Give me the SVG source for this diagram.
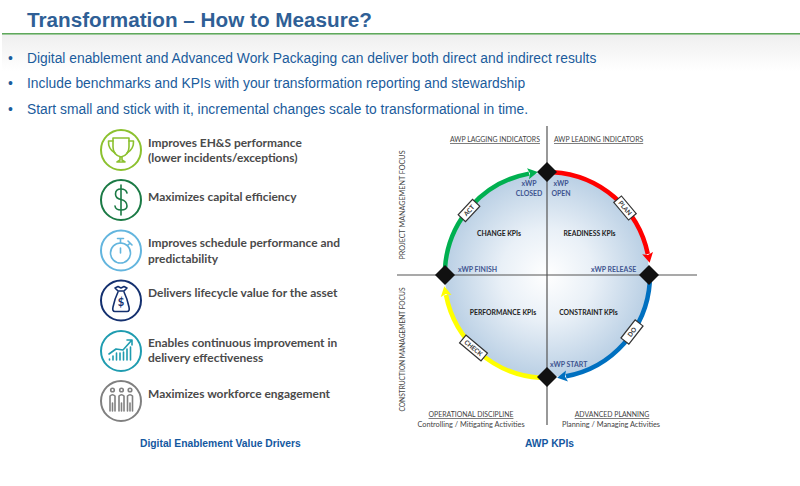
<svg xmlns="http://www.w3.org/2000/svg" width="800" height="486" viewBox="0 0 800 486">
  <style>
    .title { font: bold 20.7px "Liberation Sans", Arial, sans-serif; fill: #2f5f96; }
    .bullet { font: 13.83px "Liberation Sans", Arial, sans-serif; fill: #1b5c9c; }
    .caption { font: bold 10.3px "Liberation Sans", Arial, sans-serif; fill: #14589f; }
    .driver { font: bold 11.95px Lato, "Open Sans", sans-serif; fill: #4a4a4a; }
    .axis { font: 7.2px Lato, "Open Sans", sans-serif; fill: #444; }
    .activity { font: 7.35px Lato, "Open Sans", sans-serif; fill: #444; }
    .head { font: 6.9px Lato, "Open Sans", sans-serif; fill: #444; text-decoration: underline; }
    .kpi { font: bold 6.8px Lato, "Open Sans", sans-serif; fill: #222; text-anchor: middle; }
    .xwp { font: bold 6.95px Lato, "Open Sans", sans-serif; fill: #3f5590; }
    .mid { text-anchor: middle; }
    .tag { font: bold 6.4px Lato, "Open Sans", sans-serif; fill: #333; text-anchor: middle; }
    .tagbox { fill: #fff; stroke: #333; stroke-width: 1.2; }
    .ring { fill: none; stroke-width: 2; }
    .glyph { fill: none; stroke-width: 1.6; stroke-linecap: round; stroke-linejoin: round; }
    .arc { fill: none; stroke-width: 4.5; }
    .ax { stroke: #555; stroke-width: 1.2; }
    .gate { fill: #111; }
  </style>
  <defs>
    <linearGradient id="band" x1="0" y1="0" x2="0" y2="1">
      <stop offset="0" stop-color="#efefef"/>
      <stop offset="1" stop-color="#ffffff"/>
    </linearGradient>
    <radialGradient id="disc" gradientUnits="userSpaceOnUse" cx="547" cy="275" r="103">
      <stop offset="0" stop-color="#ffffff"/>
      <stop offset="0.45" stop-color="#e9f0f7"/>
      <stop offset="1" stop-color="#b9cfe4"/>
    </radialGradient>
    <marker id="hGreen" markerUnits="userSpaceOnUse" markerWidth="12" markerHeight="14" refX="1" refY="7" orient="auto"><path d="M0 1.5L10 7L0 12.5L2 7Z" fill="#00b050"/></marker>
    <marker id="hRed" markerUnits="userSpaceOnUse" markerWidth="12" markerHeight="14" refX="1" refY="7" orient="auto"><path d="M0 1.5L10 7L0 12.5L2 7Z" fill="#ff0000"/></marker>
    <marker id="hBlue" markerUnits="userSpaceOnUse" markerWidth="12" markerHeight="14" refX="1" refY="7" orient="auto"><path d="M0 1.5L10 7L0 12.5L2 7Z" fill="#0070c0"/></marker>
    <marker id="hYellow" markerUnits="userSpaceOnUse" markerWidth="12" markerHeight="14" refX="1" refY="7" orient="auto"><path d="M0 1.5L10 7L0 12.5L2 7Z" fill="#ffff00"/></marker>
  </defs>

  <rect width="800" height="486" fill="#fff"/>
  <rect x="2" y="35" width="798" height="36" fill="url(#band)"/>
  <rect x="2" y="33" width="798" height="1.6" fill="#5fa85c"/>

  <text class="title" x="27" y="27">Transformation – How to Measure?</text>
  <g class="bullet">
    <text x="8" y="63">•</text><text x="27" y="63">Digital enablement and Advanced Work Packaging can deliver both direct and indirect results</text>
    <text x="8" y="88">•</text><text x="27" y="88">Include benchmarks and KPIs with your transformation reporting and stewardship</text>
    <text x="8" y="114">•</text><text x="27" y="114">Start small and stick with it, incremental changes scale to transformational in time.</text>
  </g>

  <!-- value drivers -->
  <g id="driver-safety">
    <circle class="ring" cx="121" cy="150" r="20" stroke="#8cc12f"/>
    <g class="glyph" stroke="#8cc12f">
      <path d="M113 138H129V147Q129 155 121 157Q113 155 113 147Z"/>
      <path d="M113 141H108.500Q108 149 115 153M129 141H133.500Q134 149 127 153"/>
      <path d="M120 157V160L117 162H125L122 160V157"/>
    </g>
    <text class="driver" x="148" y="147">Improves EH&amp;S performance</text>
    <text class="driver" x="148" y="162">(lower incidents/exceptions)</text>
  </g>
  <g id="driver-capital">
    <circle class="ring" cx="121" cy="200" r="20" stroke="#1b7a45"/>
    <g class="glyph" stroke="#1b7a45">
      <path d="M127 193Q126 189 121 189Q115.500 189 115.500 194Q115.500 198.500 121 199.500Q127 201 127 206Q127 210 121 210Q115.500 210 115 206"/>
      <path d="M121 185V215"/>
    </g>
    <text class="driver" x="148" y="201">Maximizes capital efficiency</text>
  </g>
  <g id="driver-schedule">
    <circle class="ring" cx="121" cy="250.500" r="20" stroke="#63b5de"/>
    <g class="glyph" stroke="#63b5de">
      <circle cx="120.500" cy="253" r="10"/>
      <path d="M117.500 238.500H123.500M120.500 238.500V243M120.500 248V253M128 241L132 245M130 243L127.500 245.500"/>
    </g>
    <text class="driver" x="148" y="247">Improves schedule performance and</text>
    <text class="driver" x="148" y="263">predictability</text>
  </g>
  <g id="driver-lifecycle">
    <circle class="ring" cx="121" cy="300.500" r="20" stroke="#14306f"/>
    <g class="glyph" stroke="#14306f">
      <path d="M115 288L118 291H124L127 288L124 286.500L121 288L118 286.500Z"/>
      <path d="M118 292Q115 298 113 307Q112 311.500 115 311.500H127Q130 311.500 129 307Q127 298 124 292"/>
    </g>
    <text x="121" y="306" text-anchor="middle" font-family="Lato, sans-serif" font-weight="700" font-size="11" fill="#14306f">$</text>
    <text class="driver" x="148" y="297">Delivers lifecycle value for the asset</text>
  </g>
  <g id="driver-improvement">
    <circle class="ring" cx="121" cy="351" r="20" stroke="#1f9cb0"/>
    <g class="glyph" stroke="#1f9cb0">
      <path d="M109 354L116 349L123 350L131 341M127 340H132V345"/>
      <path d="M109.500 360V359M113 360V356M116.500 360V353M120 360V353M123.500 360V352M127 360V349M130.500 360V347"/>
    </g>
    <text class="driver" x="148" y="347">Enables continuous improvement in</text>
    <text class="driver" x="148" y="362">delivery effectiveness</text>
  </g>
  <g id="driver-workforce">
    <circle class="ring" cx="121" cy="401" r="20" stroke="#808080"/>
    <g class="glyph" stroke="#808080" stroke-width="1.300">
      <circle cx="112.500" cy="390" r="1.800"/><circle cx="121.500" cy="390" r="1.800"/><circle cx="130" cy="390" r="1.800"/>
      <path d="M110 411V396Q112.500 393.500 115 396V411M112.500 403V411"/>
      <path d="M119 411V396Q121.500 393.500 124 396V411M121.500 403V411"/>
      <path d="M127.500 411V396Q130 393.500 132.500 396V411M130 403V411"/>
    </g>
    <text class="driver" x="148" y="398">Maximizes workforce engagement</text>
  </g>
  <text class="caption" x="140" y="447">Digital Enablement Value Drivers</text>

  <!-- KPI quadrant chart -->
  <circle cx="547" cy="275" r="102" fill="url(#disc)"/>
  <g id="connectors">
    <path class="ax" d="M397 275H697M547 126V425"/>
    <path class="arc" stroke="#00b050" marker-end="url(#hGreen)" d="M445 268A103 103 0 0 1 529 173.600"/>
    <path class="arc" stroke="#ff0000" marker-end="url(#hRed)" d="M553 172.200A103 103 0 0 1 647.800 254"/>
    <path class="arc" stroke="#0070c0" marker-end="url(#hBlue)" d="M649.800 282A103 103 0 0 1 566 376.200"/>
    <path class="arc" stroke="#ffff00" marker-end="url(#hYellow)" d="M540 377.800A103 103 0 0 1 446 295"/>
  </g>
  <g id="gate-closed"><path class="gate" d="M547 162L557 172L547 182L537 172Z"/></g>
  <g id="gate-release"><path class="gate" d="M649 265L659 275L649 285L639 275Z"/></g>
  <g id="gate-start"><path class="gate" d="M547 367L557 377L547 387L537 377Z"/></g>
  <g id="gate-finish"><path class="gate" d="M445 265L455 275L445 285L435 275Z"/></g>

  <g id="tag-act" transform="translate(469 210.500) rotate(-47)"><rect class="tagbox" x="-10.500" y="-5" width="21" height="10"/><text class="tag" y="2.300">ACT</text></g>
  <g id="tag-plan" transform="translate(625 208) rotate(50)"><rect class="tagbox" x="-11.500" y="-5" width="23" height="10"/><text class="tag" y="2.300">PLAN</text></g>
  <g id="tag-do" transform="translate(632 332) rotate(-52)"><rect class="tagbox" x="-11.500" y="-5" width="23" height="10"/><text class="tag" y="2.300">DO</text></g>
  <g id="tag-check" transform="translate(473.500 348) rotate(40)"><rect class="tagbox" x="-14" y="-5" width="28" height="10"/><text class="tag" y="2.300">CHECK</text></g>

  <text class="head" x="450" y="142">AWP LAGGING INDICATORS</text>
  <text class="head" x="554" y="142">AWP LEADING INDICATORS</text>
  <text class="axis mid" transform="translate(404.500 205) rotate(-90)">PROJECT MANAGEMENT FOCUS</text>
  <text class="axis mid" style="font-size:6.6px" transform="translate(404.500 349.500) rotate(-90)">CONSTRUCTION MANAGEMENT FOCUS</text>
  <text class="head mid" x="471" y="417">OPERATIONAL DISCIPLINE</text>
  <text class="activity mid" x="471" y="427">Controlling / Mitigating Activities</text>
  <text class="head mid" x="612" y="417">ADVANCED PLANNING</text>
  <text class="activity mid" x="611" y="427">Planning / Managing Activities</text>

  <text class="kpi" x="499" y="236">CHANGE KPIs</text>
  <text class="kpi" x="589.500" y="236">READINESS KPIs</text>
  <text class="kpi" x="503" y="314.500">PERFORMANCE KPIs</text>
  <text class="kpi" x="588.500" y="314.500">CONSTRAINT KPIs</text>

  <text class="xwp mid" x="529" y="186">xWP</text>
  <text class="xwp mid" x="529" y="196">CLOSED</text>
  <text class="xwp mid" x="561" y="186">xWP</text>
  <text class="xwp mid" x="561" y="196">OPEN</text>
  <text class="xwp" x="458" y="271.500">xWP FINISH</text>
  <text class="xwp" x="591" y="271.500">xWP RELEASE</text>
  <text class="xwp" x="550" y="367">xWP START</text>

  <text class="caption" x="525" y="447">AWP KPIs</text>
</svg>
